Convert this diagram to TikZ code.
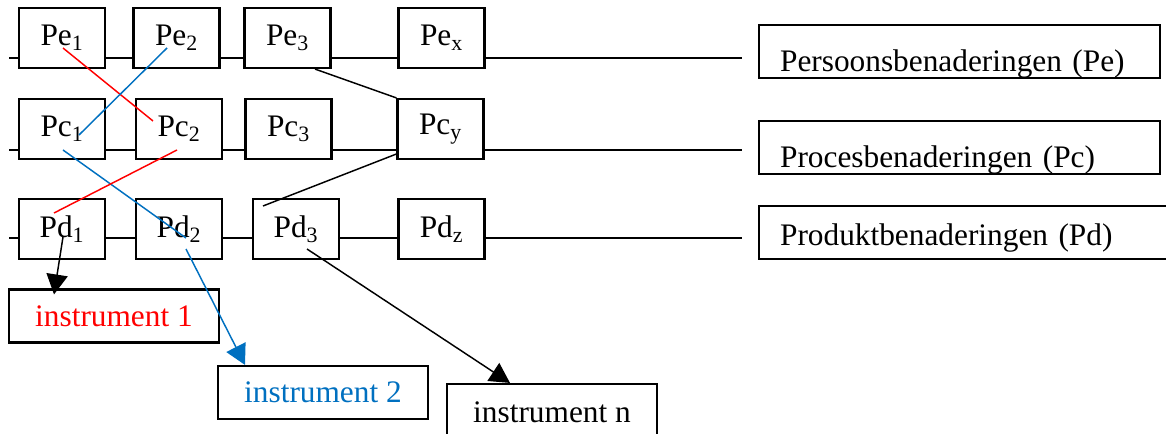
\documentclass[tikz,border=0pt]{standalone}
\usepackage{fontspec}
\setmainfont{Liberation Serif}
\usetikzlibrary{arrows.meta}

\definecolor{wordblue}{RGB}{0,112,192}

\tikzset{
  pbox/.style={draw, line width=1.6pt, fill=white, minimum width=64.5pt, minimum height=45pt, inner sep=0pt},
  lbox/.style={draw, line width=1.6pt, fill=white, anchor=west, minimum height=39.75pt, text width=269pt, inner xsep=15.75pt, inner ysep=0pt, align=left, text height=30pt, text depth=0pt},
  ibox/.style={draw, line width=1.6pt, fill=white, minimum width=157.5pt, minimum height=39.75pt, inner sep=0pt},
  lijn/.style={line width=1.5pt},
  verbind/.style={line width=1.1pt},
  pijl/.style={line width=1.1pt, -{Triangle[length=15pt,width=16pt]}},
}

\begin{document}
\begin{tikzpicture}[x=0.75pt, y=-0.75pt, font=\fontsize{23.5}{27}\selectfont]
\useasboundingbox (0,0) rectangle (1166,434);
    % 三条横线
    \coordinate (peL) at (9,58);   \coordinate (peR) at (742,58);
    \coordinate (pcL) at (9,150);  \coordinate (pcR) at (742,150);
    \coordinate (pdL) at (9,238);  \coordinate (pdR) at (742,238);
    \draw[lijn] (peL) -- (peR);
    \draw[lijn] (pcL) -- (pcR);
    \draw[lijn] (pdL) -- (pdR);

    % 方框
\node[pbox] (pe1) at (62,38)    {Pe\textsubscript{1}};
\node[pbox] (pe2) at (176.5,38) {Pe\textsubscript{2}};
\node[pbox] (pe3) at (287.5,38) {Pe\textsubscript{3}};
\node[pbox] (pex) at (441.5,38) {Pe\textsubscript{x}};
\node[pbox] (pc1) at (62,129)    {Pc\textsubscript{1}};
\node[pbox] (pc2) at (179,129)   {Pc\textsubscript{2}};
\node[pbox] (pc3) at (288.5,129) {Pc\textsubscript{3}};
\node[pbox] (pcy) at (440.5,129) {Pc\textsubscript{y}};
\node[pbox] (pd1) at (62,229)    {Pd\textsubscript{1}};
\node[pbox] (pd2) at (179,229)   {Pd\textsubscript{2}};
\node[pbox] (pd3) at (296,229)   {Pd\textsubscript{3}};
\node[pbox] (pdz) at (441.5,229) {Pd\textsubscript{z}};

\node[lbox] (lpe) at (758,51.5)  {Persoonsbenaderingen (Pe)};
\node[lbox] (lpc) at (758,147.5) {Procesbenaderingen (Pc)};
\node[lbox, text width=277.5pt, text height=20pt] (lpd) at (758,232.5) {Produktbenaderingen (Pd)};

\node[ibox, text=red] (ins1) at (114,316) {instrument 1};
\node[ibox, text=wordblue] (ins2) at (323,392.5) {instrument 2};
\node[ibox, minimum height=42pt] (insn) at (552,412) {instrument n};

    % 连线
\draw[verbind, red] ([shift={(1,10)}]pe1.center) -- ([shift={(-26,-8)}]pc2.center);
\draw[verbind, wordblue] ([shift={(-9.5,10)}]pe2.center) -- ([shift={(17,6)}]pc1.center);
\draw[verbind] ([shift={(27.5,0)}]pe3.south) -- (pcy.north west);
\draw[verbind, wordblue] ([shift={(1,21)}]pc1.center) -- ([shift={(7,9)}]pd2.center);
\draw[verbind, red] ([shift={(-2,21)}]pc2.center) -- ([shift={(-8,-16)}]pd1.center);
\draw[verbind] ([shift={(0,25)}]pcy.west) -- ([shift={(-33,-23)}]pd3.center);

\draw[pijl] ([shift={(1,8)}]pd1.center) -- ([shift={(-60,6)}]ins1.north);
\draw[pijl, wordblue] ([shift={(7,20)}]pd2.center) -- ([shift={(-78,0)}]ins2.north);
\draw[pijl] ([shift={(11,20)}]pd3.center) -- ([shift={(-42,0)}]insn.north);
\end{tikzpicture}
\end{document}
